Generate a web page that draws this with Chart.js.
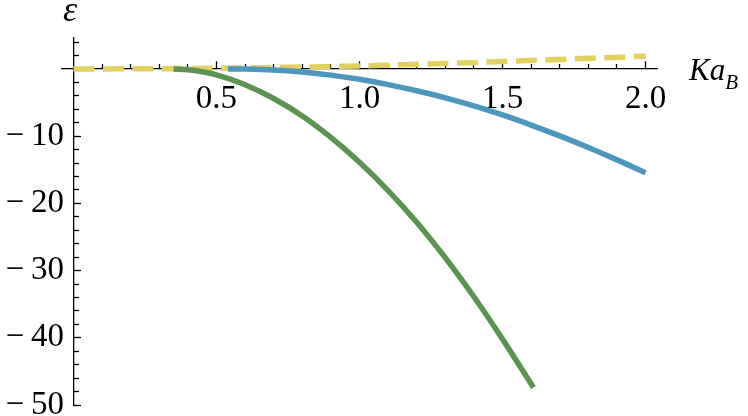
<!DOCTYPE html>
<html>
<head>
<meta charset="utf-8">
<script src="https://cdn.jsdelivr.net/npm/chart.js@4/dist/chart.umd.min.js"></script>
<style>
  html, body { margin: 0; padding: 0; background: #fff; }
</style>
</head>
<body>
<canvas id="chart" width="748" height="416"></canvas>
<script>
// curve samples (x = Ka_B, y = epsilon)
const greenX = [0.35, 0.40, 0.45, 0.50, 0.60, 0.70, 0.80, 0.90, 1.00, 1.10, 1.20, 1.30, 1.40, 1.50, 1.608];
const greenY = [0, -0.12, -0.43, -0.9, -2.35, -4.4, -7.0, -10.2, -13.9, -18.1, -22.8, -28.1, -33.9, -40.2, -47.4];

const blueX = [0.54, 0.60, 0.70, 0.80, 0.90, 1.00, 1.10, 1.20, 1.30, 1.40, 1.50, 1.60, 1.70, 1.80, 1.90, 2.00];
const blueY = [0, -0.02, -0.15, -0.45, -0.92, -1.55, -2.33, -3.25, -4.3, -5.5, -6.85, -8.35, -9.97, -11.7, -13.53, -15.45];

const yellowX = [0, 0.25, 0.50, 0.75, 1.00, 1.25, 1.50, 1.75, 2.00];
const yellowY = [0, 0.02, 0.1, 0.25, 0.45, 0.75, 1.1, 1.5, 1.9];

// axis ticks
const xMajorTicks = [0.5, 1.0, 1.5, 2.0];
const xMinorTicks = [0.1, 0.2, 0.3, 0.4, 0.6, 0.7, 0.8, 0.9, 1.1, 1.2, 1.3, 1.4, 1.6, 1.7, 1.8, 1.9];
const yMajorTicks = [-10, -20, -30, -40, -50];
const yMinorTicks = [4, 2, -2, -4, -6, -8, -12, -14, -16, -18, -22, -24, -26, -28, -32, -34, -36, -38, -42, -44, -46, -48];

const serif = "'Liberation Serif', 'Times New Roman', serif";
const tickFont = { family: serif, size: 33 };

const toPoints = (xs, ys) => xs.map((x, i) => ({ x: x, y: ys[i] }));

// keep object-positioned axes from eating into the plot area
function noPad(s) {
    s.paddingLeft = s.paddingRight = s.paddingTop = s.paddingBottom = 0;
}

const axisText = {
    id: 'axisText',
    afterDraw(chart) {
        const c = chart.ctx;
        c.save();
        c.fillStyle = '#000';
        c.textBaseline = 'alphabetic';
        c.font = `italic 36px ${serif}`;
        c.fillText('ε', 63, 21);
        c.font = `italic 31px ${serif}`;
        c.fillText('Ka', 689, 80);
        const w = c.measureText('Ka').width;
        c.font = `italic 21px ${serif}`;
        c.fillText('B', 689 + w, 89);
        c.restore();
    }
};

const lineStyle = {
    borderWidth: 5.5,
    pointRadius: 0,
    fill: false,
    cubicInterpolationMode: 'monotone'
};

new Chart(document.getElementById('chart'), {
    type: 'line',
    data: {
        datasets: [
            { ...lineStyle, data: toPoints(greenX, greenY), borderColor: '#5b9450' },
            { ...lineStyle, data: toPoints(blueX, blueY), borderColor: '#4b97bd' },
            { ...lineStyle, data: toPoints(yellowX, yellowY), borderColor: '#e2d160',
              borderDash: [21, 8.5], borderCapStyle: 'butt' }
        ]
    },
    options: {
        responsive: false,
        animation: false,
        devicePixelRatio: 1,
        layout: { padding: { left: 62, right: 91, top: 38, bottom: 11 } },
        plugins: { legend: { display: false }, tooltip: { enabled: false } },
        scales: {
            x: {
                type: 'linear', min: -0.04, max: 2.04, position: { y: 0 }, z: 1,
                afterBuildTicks: s => { s.ticks = xMajorTicks.map(v => ({ value: v })); },
                afterFit: noPad,
                grid: { drawOnChartArea: false, tickLength: -8, tickWidth: 1.3, tickColor: '#000' },
                border: { display: true, color: '#000', width: 1.3 },
                ticks: { font: tickFont, color: '#000', padding: 19, maxRotation: 0, autoSkip: false,
                         callback: v => v.toFixed(1) }
            },
            xMinor: {
                type: 'linear', axis: 'x', min: -0.04, max: 2.04, position: { y: 0 }, z: 1,
                afterBuildTicks: s => { s.ticks = xMinorTicks.map(v => ({ value: v })); },
                afterFit: noPad,
                grid: { drawOnChartArea: false, tickLength: -5, tickWidth: 1.3, tickColor: '#000' },
                border: { display: false },
                ticks: { display: false }
            },
            y: {
                type: 'linear', min: -50, max: 4.6, position: { x: 0 }, z: 1,
                afterBuildTicks: s => { s.ticks = yMajorTicks.map(v => ({ value: v })); },
                afterFit: noPad,
                grid: { drawOnChartArea: false, tickLength: -8, tickWidth: 1.3, tickColor: '#000' },
                border: { display: true, color: '#000', width: 1.3 },
                ticks: { font: tickFont, color: '#000', padding: 0, autoSkip: false,
                         callback: v => '\u2212\u2009' + Math.abs(v) + '\u2009\u200a' }
            },
            yMinor: {
                type: 'linear', axis: 'y', min: -50, max: 4.6, position: { x: 0 }, z: 1,
                afterBuildTicks: s => { s.ticks = yMinorTicks.map(v => ({ value: v })); },
                afterFit: noPad,
                grid: { drawOnChartArea: false, tickLength: -6, tickWidth: 1.3, tickColor: '#000' },
                border: { display: false },
                ticks: { display: false }
            }
        }
    },
    plugins: [axisText]
});
</script>
</body>
</html>
